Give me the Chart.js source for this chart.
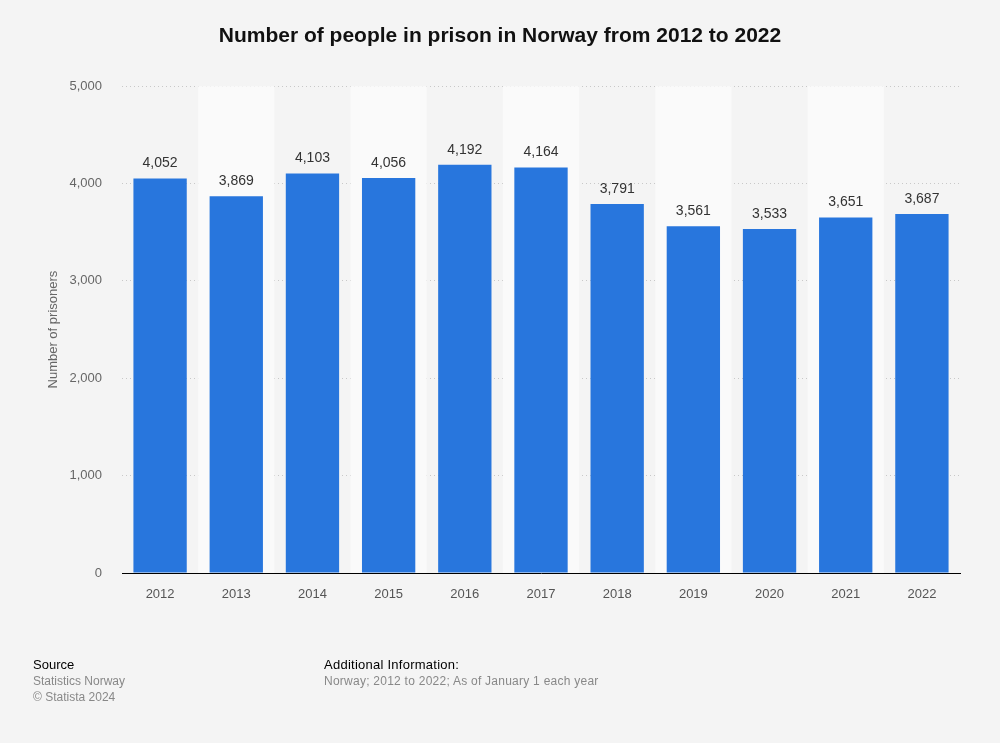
<!DOCTYPE html>
<html>
<head>
<meta charset="utf-8">
<script src="https://cdn.jsdelivr.net/npm/chart.js@4"></script>
<style>
  body { margin: 0; background: #f4f4f4; font-family: "Liberation Sans", Arial, sans-serif; }
  #wrap { position: relative; width: 1000px; height: 743px; }
  .foot { position: absolute; font-size: 12px; color: #888; line-height: 16px; }
  .foot b { font-weight: normal; color: #000; font-size: 13px; }
</style>
</head>
<body>
<div id="wrap">
  <canvas id="myChart" width="1000" height="743"></canvas>
  <div class="foot" style="left:33px; top:657px;"><b>Source</b><br>Statistics Norway<br>© Statista 2024</div>
  <div class="foot" style="left:324px; top:657px; letter-spacing:0.25px;"><b>Additional Information:</b><br>Norway; 2012 to 2022; As of January 1 each year</div>
</div>
<script>
// Prisoners in Norway
var years = ["2012", "2013", "2014", "2015", "2016", "2017", "2018", "2019", "2020", "2021", "2022"];
var prisoners = [4052, 3869, 4103, 4056, 4192, 4164, 3791, 3561, 3533, 3651, 3687];

var bands = {
  id: "bands",
  beforeDatasetsDraw: function(chart) {
    var ctx = chart.ctx, x = chart.scales.x, a = chart.chartArea;
    var w = x.width / years.length;
    ctx.save();
    ctx.fillStyle = "#fafafa";
    for (var i = 1; i < years.length; i += 2) {
      ctx.fillRect(x.getPixelForValue(i) - w / 2, a.top, w, a.bottom - a.top);
    }
    ctx.restore();
  }
};

var labels = {
  id: "labels",
  afterDatasetsDraw: function(chart) {
    var ctx = chart.ctx;
    ctx.save();
    ctx.font = "14px 'Liberation Sans', Arial";
    ctx.fillStyle = "#333";
    ctx.textAlign = "center";
    ctx.textBaseline = "bottom";
    chart.getDatasetMeta(0).data.forEach(function(bar, i) {
      ctx.fillText(prisoners[i].toLocaleString("en-US"), bar.x, bar.y - 8);
    });
    ctx.restore();
  }
};

new Chart("myChart", {
  type: "bar",
  data: {
    labels: years,
    datasets: [{
      data: prisoners,
      backgroundColor: "#2876dd",
      categoryPercentage: 1,
      barPercentage: 0.7
    }]
  },
  plugins: [bands, labels],
  options: {
    responsive: false,
    animation: false,
    layout: { padding: { left: 40, right: 40, top: 0, bottom: 0 } },
    plugins: {
      legend: { display: false },
      tooltip: { enabled: false },
      title: {
        display: true,
        text: "Number of people in prison in Norway from 2012 to 2022",
        color: "#111",
        font: { family: "'Liberation Sans', Arial", size: 21, weight: "bold" },
        padding: { top: 24, bottom: 37 }
      }
    },
    scales: {
      x: {
        grid: { display: false, drawTicks: false },
        border: { color: "#000", width: 1 },
        ticks: { color: "#555", padding: 14, font: { family: "'Liberation Sans', Arial", size: 13 } },
        afterFit: function(s) { s.height = 170; }
      },
      y: {
        min: 0,
        max: 5000,
        ticks: {
          stepSize: 1000,
          color: "#666",
          padding: 20,
          font: { family: "'Liberation Sans', Arial", size: 13 },
          callback: function(v) { return v.toLocaleString("en-US"); }
        },
        grid: { color: "#c8c8c8", drawTicks: false },
        border: { display: false, dash: [1, 3] },
        title: {
          display: true,
          text: "Number of prisoners",
          color: "#666",
          font: { family: "'Liberation Sans', Arial", size: 13 },
          padding: { top: 6, bottom: 0 }
        },
        afterFit: function(s) { s.width = 82; }
      }
    }
  }
});
</script>
</body>
</html>
